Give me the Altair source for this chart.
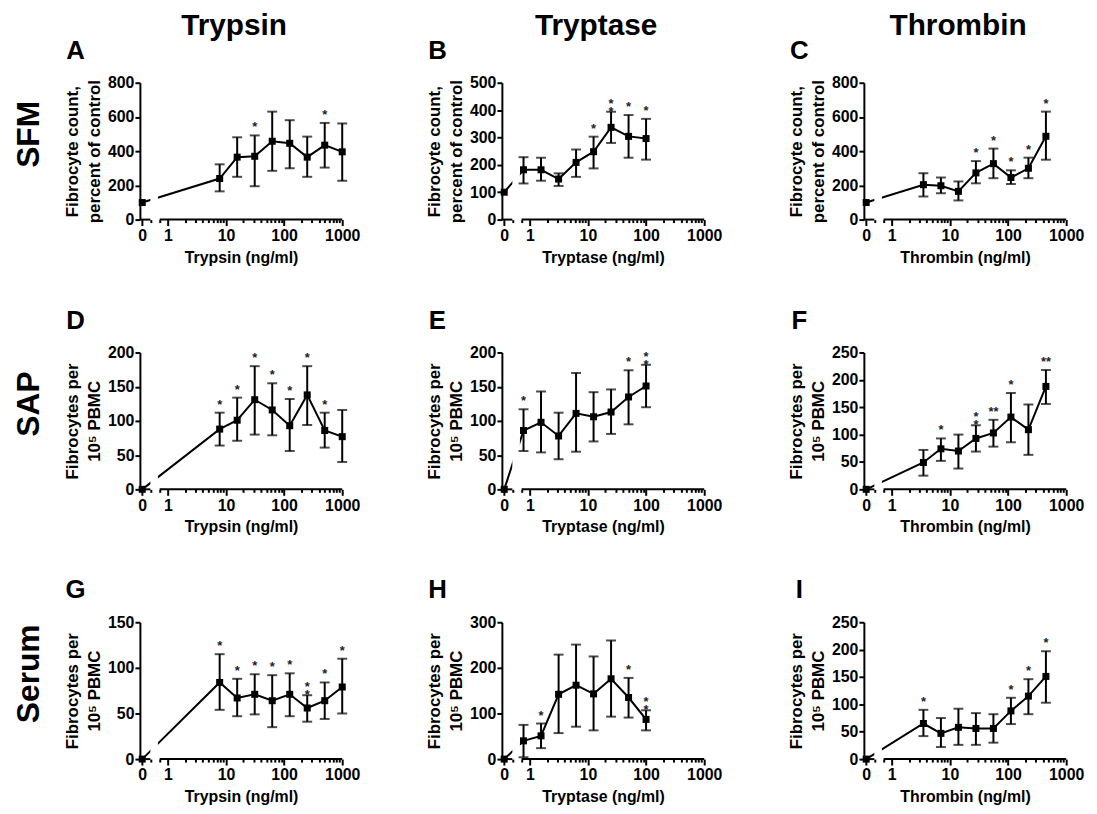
import math
import altair as alt
import pandas as pd

FONT = "Liberation Sans"

# ---------------- data ----------------
COLUMNS = ["Trypsin", "Tryptase", "Thrombin"]
ROWS = ["SFM", "SAP", "Serum"]
LETTERS = ["A", "B", "C", "D", "E", "F", "G", "H", "I"]

TRYPSIN_DOSE = [0, 7.8, 15.6, 31.25, 62.5, 125, 250, 500, 1000]
TRYPTASE_DOSE = [0, 0.78, 1.56, 3.13, 6.25, 12.5, 25, 50, 100]
THROMBIN_DOSE = [0, 3.5, 7, 14, 28, 56, 112, 224, 448]

A_MEAN = [100, 240, 365, 370, 458, 446, 365, 435, 396]
A_LO = [None, 165, 250, 195, 285, 300, 250, 304, 227]
A_HI = [None, 323, 481, 492, 631, 581, 485, 565, 562]
A_SIG = ["", "", "", "*", "", "", "", "*", ""]

B_MEAN = [100, 182, 182, 148, 209, 248, 337, 304, 296]
B_LO = [None, 132, 142, 123, 156, 187, 280, 226, 219]
B_HI = [None, 228, 226, 169, 256, 303, 394, 382, 368]
B_SIG = ["", "", "", "", "", "*", "*\n*", "*", "*"]

C_MEAN = [100, 204, 198, 165, 273, 327, 246, 300, 487]
C_LO = [None, 135, 154, 112, 212, 242, 208, 242, 350]
C_HI = [None, 271, 246, 223, 342, 415, 288, 362, 631]
C_SIG = ["", "", "", "", "*", "*", "*", "*", "*"]

D_MEAN = [0, 88, 101, 131, 116, 93, 138, 86, 77]
D_LO = [None, 64, 71, 80, 79, 56, 94, 61, 40]
D_HI = [None, 112, 134, 180, 155, 132, 180, 112, 116]
D_SIG = ["", "*", "*", "*", "*", "*", "*", "*", ""]

E_MEAN = [0, 86, 98, 78, 111, 106, 113, 135, 151]
E_LO = [None, 56, 54, 44, 55, 70, 81, 95, 120]
E_HI = [None, 117, 143, 112, 170, 142, 146, 174, 182]
E_SIG = ["", "*", "", "", "", "", "", "*", "*\n*"]

F_MEAN = [0, 49, 74, 70, 93, 103, 132, 109, 188]
F_LO = [None, 25, 52, 38, 69, 78, 86, 63, 156]
F_HI = [None, 72, 93, 100, 117, 127, 176, 155, 218]
F_SIG = ["", "", "*", "", "*\n*", "**", "*", "", "**"]

G_MEAN = [0, 84, 67, 71, 64, 71, 56, 64, 79]
G_LO = [None, 54, 47, 49, 35, 47, 41, 44, 50]
G_HI = [None, 115, 88, 93, 92, 94, 70, 84, 110]
G_SIG = ["", "*", "*", "*", "*", "*", "*\n*", "*", "*"]

H_MEAN = [0, 40, 51, 142, 162, 143, 176, 135, 87]
H_LO = [None, 4, 24, 57, 71, 63, 93, 91, 63]
H_HI = [None, 75, 78, 229, 251, 225, 260, 178, 107]
H_SIG = ["", "", "*", "", "", "", "", "*", "*\n*"]

I_MEAN = [0, 65, 47, 58, 56, 56, 88, 115, 151]
I_LO = [None, 42, 22, 26, 26, 30, 64, 82, 103]
I_HI = [None, 90, 75, 92, 84, 82, 112, 146, 197]
I_SIG = ["", "*", "", "", "", "", "*", "*", "*"]

Y_MAX = [800, 500, 800, 200, 200, 250, 150, 300, 250]
Y_STEP = [200, 100, 200, 50, 50, 50, 50, 100, 50]

Y_TITLES = [["Fibrocyte count,", "percent of control"],
            ["Fibrocytes per", "10\u2075 PBMC"],
            ["Fibrocytes per", "10\u2075 PBMC"]]

# ---------------- layout / styling ----------------
W, H = 204, 138
ZERO_POS = -0.44          # log-axis position used for the 0 dose (left of break)
X_MIN, X_MAX = -0.48, 3.0
BREAK_L, BREAK_R = -0.30, -0.14
GAP_L, GAP_R = -0.30, -0.17

ONE = pd.DataFrame({"k": [0]})

major = f"abs(datum.value - round(datum.value)) < 0.001 || abs(datum.value - ({ZERO_POS})) < 0.001"
x_ticks = [ZERO_POS, BREAK_L, BREAK_R] + [
    math.log10(k * 10 ** d) for d in range(0, 3) for k in range(1, 10)
] + [3.0]
x_label = (f"abs(datum.value - ({ZERO_POS})) < 0.001 ? '0' : "
           "(datum.value >= 0 && abs(datum.value - round(datum.value)) < 0.001 ? "
           "'' + round(pow(10, datum.value)) : '')")


def panel(i, dose, mean, lo, hi, sig, xname, ytitle, header=None, rowlabel=None):
    df = pd.DataFrame({"dose": dose, "mean": mean, "lo": lo, "hi": hi, "sig": sig})
    base = alt.Chart(df).transform_calculate(
        xpos=f"datum.dose == 0 ? {ZERO_POS} : log(datum.dose) / LN10")
    xscale = alt.Scale(domain=[X_MIN, X_MAX], nice=False, zero=False)
    yscale = alt.Scale(domain=[0, Y_MAX[i]], nice=False, zero=True)
    xaxis = alt.Axis(values=x_ticks, labelExpr=x_label, domain=False, grid=False,
                     tickSize={"condition": {"test": major, "value": 6}, "value": 3},
                     tickWidth=2, tickColor="black", labelPadding=2,
                     labelOverlap=False, labelFlush=False, labelBound=False,
                     titlePadding=6, titleFontSize=16)
    yaxis = alt.Axis(values=list(range(0, Y_MAX[i] + 1, Y_STEP[i])), domain=True,
                     grid=False, tickSize=5, tickWidth=2, tickColor="black",
                     labelPadding=1, labelOverlap=False, labelFlush=False,
                     titlePadding=4, titleLineHeight=22, titleFontSize=17)
    xtitle = f"{xname} (ng/ml)"
    X = alt.X("xpos:Q", scale=xscale, axis=xaxis, title=xtitle)

    def Y(field):
        return alt.Y(field, type="quantitative", scale=yscale, axis=yaxis, title=ytitle)

    def XD(v):
        return alt.XDatum(v, type="quantitative", scale=xscale, axis=xaxis, title=xtitle)

    line = base.mark_line(color="black", strokeWidth=2).encode(x=X, y=Y("mean"))
    mask = alt.Chart(ONE).mark_rect(color="white").encode(
        x=XD(GAP_L), x2=alt.X2Datum(GAP_R), y=alt.value(0), y2=alt.value(H))
    err = base.transform_filter("isValid(datum.hi)").mark_rule(
        color="black", strokeWidth=2).encode(x=X, y=Y("lo"), y2="hi:Q")
    cap_lo = base.transform_filter("isValid(datum.lo)").mark_tick(
        color="black", orient="horizontal", thickness=2, size=10).encode(x=X, y=Y("lo"))
    cap_hi = base.transform_filter("isValid(datum.hi)").mark_tick(
        color="black", orient="horizontal", thickness=2, size=10).encode(x=X, y=Y("hi"))
    pts = base.mark_square(color="black", filled=True, size=50, opacity=1).encode(
        x=X, y=Y("mean"))
    stars = base.transform_filter("isValid(datum.hi)").mark_text(
        color="#1c1c2c", fontSize=13, font=FONT, fontWeight="bold", baseline="bottom",
        dy=-1, lineBreak="\n", lineHeight=8).encode(x=X, y=Y("hi"), text="sig:N")
    seg_l = alt.Chart(ONE).mark_rule(color="black", strokeWidth=2).encode(
        x=XD(X_MIN), x2=alt.X2Datum(BREAK_L), y=alt.value(H))
    seg_r = alt.Chart(ONE).mark_rule(color="black", strokeWidth=2).encode(
        x=XD(BREAK_R), x2=alt.X2Datum(X_MAX), y=alt.value(H))
    letter = alt.Chart(ONE).mark_text(
        text=LETTERS[i], font=FONT, fontWeight="bold", fontSize=26, color="black",
        align="center", baseline="alphabetic").encode(x=alt.value(-65), y=alt.value(-24))

    layers = [line, mask, err, cap_lo, cap_hi, pts, stars, seg_l, seg_r, letter]
    if header:
        layers.append(alt.Chart(ONE).mark_text(
            text=header, font=FONT, fontWeight="bold", fontSize=30, color="black",
            align="center", baseline="alphabetic").encode(
            x=alt.value(95), y=alt.value(-48)))
    if rowlabel:
        layers.append(alt.Chart(ONE).mark_text(
            text=rowlabel, font=FONT, fontWeight="bold", fontSize=32, color="black",
            align="center", baseline="middle", angle=270).encode(
            x=alt.value(-112), y=alt.value(52)))
    return alt.layer(*layers).properties(width=W, height=H)


DOSES = [TRYPSIN_DOSE, TRYPTASE_DOSE, THROMBIN_DOSE]
PANELS = [
    (A_MEAN, A_LO, A_HI, A_SIG), (B_MEAN, B_LO, B_HI, B_SIG), (C_MEAN, C_LO, C_HI, C_SIG),
    (D_MEAN, D_LO, D_HI, D_SIG), (E_MEAN, E_LO, E_HI, E_SIG), (F_MEAN, F_LO, F_HI, F_SIG),
    (G_MEAN, G_LO, G_HI, G_SIG), (H_MEAN, H_LO, H_HI, H_SIG), (I_MEAN, I_LO, I_HI, I_SIG),
]

rows = []
for r in range(3):
    charts = []
    for c in range(3):
        i = r * 3 + c
        m, lo, hi, sg = PANELS[i]
        charts.append(panel(i, DOSES[c], m, lo, hi, sg, COLUMNS[c], Y_TITLES[r],
                            header=COLUMNS[c] if r == 0 else None,
                            rowlabel=ROWS[r] if c == 0 else None))
    rows.append(alt.hconcat(*charts, spacing=66))

chart = alt.vconcat(*rows, spacing=43).configure_view(stroke=None).configure_axis(
    labelFont=FONT, labelFontSize=16, labelFontWeight="bold", labelColor="black",
    titleFont=FONT, titleFontWeight="bold", titleColor="black",
    domainColor="black", domainWidth=2,
).properties(background="white",
             padding={"left": 5, "top": 0, "right": 5, "bottom": 5})

chart.save("out.html", embed_options={"renderer": "svg", "actions": False})
